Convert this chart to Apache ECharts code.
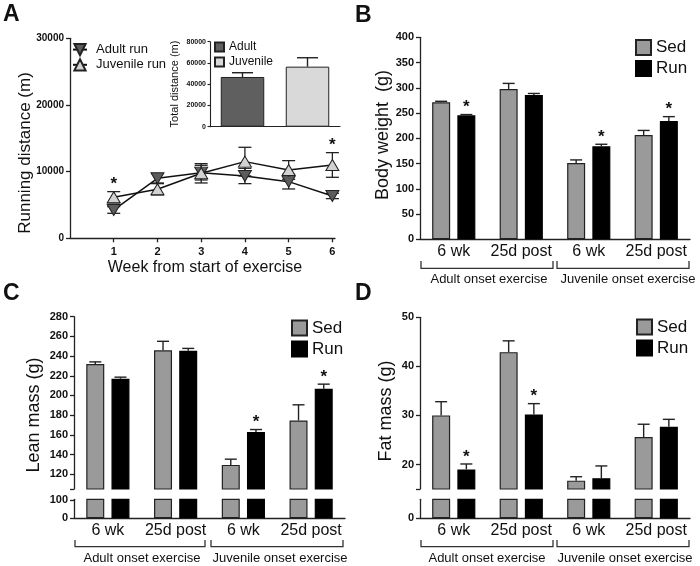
<!DOCTYPE html>
<html><head><meta charset="utf-8">
<script src="https://cdn.jsdelivr.net/npm/echarts@6/dist/echarts.min.js"></script>
<style>html,body{margin:0;padding:0;background:#fff}#c{width:700px;height:566px}</style>
</head><body><div id="c"></div>
<script>
// ---------------- data ----------------
const weeks = [1, 2, 3, 4, 5, 6];
const adultRun = [4250, 9000, 9850, 9350, 8500, 6350];
const adultRunErr = [500, 700, 1100, 1150, 1100, 400];
const juvenileRun = [6150, 7350, 9750, 11500, 10250, 11000];
const juvenileRunErr = [850, 850, 1450, 2150, 1400, 1850];
const weekSig = [1, 0, 0, 0, 0, 1];

const totalGroups = ['Adult', 'Juvenile'];
const totalDistance = [46800, 56500];
const totalDistanceErr = [4000, 8400];

const timeCats = ['6 wk', '25d post', '6 wk', '25d post'];
const groupLabels = ['Adult onset exercise', 'Juvenile onset exercise'];

const bwSed = [271.3, 297.7, 151.2, 206.6];
const bwSedErr = [2, 11, 6, 9];
const bwRun = [245.5, 285.8, 184.2, 234.3];
const bwRunErr = [1.5, 3, 4, 8.6];
const bwRunSig = [1, 0, 1, 1];

const leanSed = [232, 245.8, 129.5, 174.6];
const leanSedErr = [2.1, 9.2, 5.8, 15.9];
const leanRun = [217, 245.4, 163, 206.8];
const leanRunErr = [1.6, 2.4, 2.4, 4.7];
const leanRunSig = [0, 0, 1, 1];

const fatSed = [30.0, 42.9, 16.7, 25.6];
const fatSedErr = [2.8, 2.3, 0.8, 2.6];
const fatRun = [19.0, 30.2, 17.2, 27.7];
const fatRunErr = [1.1, 2.2, 2.5, 1.5];
const fatRunSig = [1, 1, 0, 0];

const leanTicks = [120, 140, 160, 180, 200, 220, 240, 260, 280];
const fatTicks = [20, 30, 40, 50];
const lowLabels = [0, 100];

// ---------------- helpers ----------------
const FONT = '"Liberation Sans", Arial, sans-serif';
const AX = '#222';
const SED_COLOR = '#9a9a9a';
const RUN_COLOR = '#000000';
const plain = v => String(v);
const onlyLow = v => (lowLabels.indexOf(v) >= 0 ? String(v) : '');

function starText(x, y) {
  return { type: 'text', style: { text: '*', x: x, y: y, align: 'center', verticalAlign: 'middle',
    font: 'bold 17px ' + FONT, fill: '#111' } };
}

function barErr(xi, yi, vals, errs, sigs, offset, capW) {
  return {
    type: 'custom', xAxisIndex: xi, yAxisIndex: yi, z: 5, silent: true,
    encode: { x: 0, y: 1 },
    data: vals.map((v, i) => [i, v, errs[i], sigs ? sigs[i] : 0]),
    renderItem: function (params, api) {
      const p0 = api.coord([api.value(0), api.value(1)]);
      const p1 = api.coord([api.value(0), api.value(1) + api.value(2)]);
      const x = p0[0] + offset;
      const st = { stroke: AX, lineWidth: 1.4 };
      const ch = [
        { type: 'line', shape: { x1: x, y1: p0[1], x2: x, y2: p1[1] }, style: st },
        { type: 'line', shape: { x1: x - capW / 2, y1: p1[1], x2: x + capW / 2, y2: p1[1] }, style: st }
      ];
      if (api.value(3)) ch.push(starText(x, p1[1] - 7));
      return { type: 'group', children: ch };
    }
  };
}

function lineErr(vals, errs, sigs) {
  return {
    type: 'custom', xAxisIndex: 0, yAxisIndex: 0, z: 2, silent: true,
    encode: { x: 0, y: 1 },
    data: weeks.map((w, i) => [w, vals[i], errs[i], sigs ? sigs[i] : 0]),
    renderItem: function (params, api) {
      const w = api.value(0), v = api.value(1), e = api.value(2);
      const pt = api.coord([w, v + e]), pb = api.coord([w, v - e]);
      const x = pt[0];
      const st = { stroke: AX, lineWidth: 1.3 };
      const ch = [
        { type: 'line', shape: { x1: x, y1: pt[1], x2: x, y2: pb[1] }, style: st },
        { type: 'line', shape: { x1: x - 6.5, y1: pt[1], x2: x + 6.5, y2: pt[1] }, style: st },
        { type: 'line', shape: { x1: x - 6.5, y1: pb[1], x2: x + 6.5, y2: pb[1] }, style: st }
      ];
      if (api.value(3)) ch.push(starText(x, pt[1] - 7));
      return { type: 'group', children: ch };
    }
  };
}

function bars(xi, yi, sed, run) {
  return [
    { name: 'Sed', type: 'bar', xAxisIndex: xi, yAxisIndex: yi, data: sed, barWidth: 18, barGap: '40%',
      clip: true, itemStyle: { color: SED_COLOR, borderColor: AX, borderWidth: 1.2 } },
    { name: 'Run', type: 'bar', xAxisIndex: xi, yAxisIndex: yi, data: run, barWidth: 18, barGap: '40%',
      clip: true, itemStyle: { color: RUN_COLOR, borderColor: '#000', borderWidth: 1.2 } }
  ];
}

function lbl(extra) {
  return Object.assign({ fontSize: 11, fontWeight: 'bold', color: '#111', margin: 6, fontFamily: FONT,
    formatter: plain, showMinLabel: true, showMaxLabel: true, hideOverlap: false }, extra || {});
}
function tick(extra) {
  return Object.assign({ show: true, length: 4, lineStyle: { color: AX, width: 1.3 } }, extra || {});
}

function valAxis(gi, extra) {
  return Object.assign({
    type: 'value', gridIndex: gi, splitLine: { show: false },
    axisLine: { show: true, lineStyle: { color: AX, width: 1.3 } },
    axisTick: tick(), axisLabel: lbl()
  }, extra);
}

function catAxis(gi, show) {
  return {
    type: 'category', gridIndex: gi, data: timeCats, show: show,
    axisLine: { show: true, lineStyle: { color: AX, width: 1.3 } },
    axisTick: { show: false },
    axisLabel: { interval: 0, fontSize: 16, color: '#111', margin: 4, fontFamily: FONT, hideOverlap: false }
  };
}

function sedRunLegend(left, top) {
  return {
    data: ['Sed', 'Run'], orient: 'vertical', left: left, top: top, padding: 0,
    icon: 'rect', itemWidth: 15, itemHeight: 15, itemGap: 4, selectedMode: false,
    textStyle: { fontSize: 17, color: '#111', fontFamily: FONT }
  };
}

function txt(text, x, y, size, opts) {
  return Object.assign({ type: 'text', x: x, y: y, silent: true,
    style: Object.assign({ text: text, align: 'center', verticalAlign: 'middle',
      font: size + 'px ' + FONT, fill: '#111' }, (opts && opts.style) || {}) },
    opts && opts.rot ? { rotation: Math.PI / 2 } : {});
}

function bracket(x1, x2, y1, y2) {
  return { type: 'polyline', silent: true,
    shape: { points: [[x1, y1], [x1, y2], [x2, y2], [x2, y1]] },
    style: { stroke: '#333', lineWidth: 1.3, fill: null } };
}

const option = {
  animation: false,
  textStyle: { fontFamily: FONT },
  grid: [
    { left: 70, top: 38.3, width: 265, height: 200 },     // A
    { left: 210, top: 41.7, width: 130, height: 85 },     // inset
    { left: 420, top: 37.3, width: 270, height: 202 },    // B
    { left: 74, top: 316.7, width: 271, height: 172.3 },  // C upper
    { left: 74, top: 499.3, width: 271, height: 19 },     // C lower
    { left: 420, top: 317.3, width: 270, height: 171.7 }, // D upper
    { left: 420, top: 499.3, width: 270, height: 19 }     // D lower
  ],
  xAxis: [
    { type: 'value', gridIndex: 0, min: 0, max: 6.06, splitLine: { show: false },
      axisLine: { show: true, onZero: false, lineStyle: { color: AX, width: 1.3 } },
      axisTick: tick({ customValues: weeks }),
      axisLabel: lbl({ margin: 8, customValues: weeks, showMinLabel: null, showMaxLabel: null }) },
    { type: 'category', gridIndex: 1, data: totalGroups,
      axisLine: { show: true, lineStyle: { color: AX, width: 1.2 } },
      axisTick: { show: false }, axisLabel: { show: false } },
    catAxis(2, true),
    catAxis(3, false),
    catAxis(4, true),
    catAxis(5, false),
    catAxis(6, true)
  ],
  yAxis: [
    valAxis(0, { min: 0, max: 30000, interval: 10000, axisLabel: lbl({ fontSize: 10 }) }),
    valAxis(1, { min: 0, max: 80000, interval: 20000,
      axisTick: tick({ length: 2.5, lineStyle: { color: AX, width: 1.1 } }),
      axisLine: { show: true, lineStyle: { color: AX, width: 1.1 } },
      axisLabel: lbl({ fontSize: 7, margin: 4 }) }),
    valAxis(2, { min: 0, max: 400, interval: 50 }),
    valAxis(3, { min: 105, max: 280,
      axisTick: tick({ customValues: [105].concat(leanTicks) }),
      axisLabel: lbl({ customValues: leanTicks, showMinLabel: null }) }),
    valAxis(4, { min: 0, max: 104, interval: 100, axisLabel: lbl({ formatter: onlyLow, showMaxLabel: false }) }),
    valAxis(5, { min: 15, max: 50,
      axisTick: tick({ customValues: [15].concat(fatTicks) }),
      axisLabel: lbl({ customValues: fatTicks, showMinLabel: null }) }),
    valAxis(6, { min: 0, max: 4, interval: 4, axisLabel: lbl({ formatter: v => (v === 0 ? '0' : ''), showMaxLabel: false }) })
  ],
  legend: [
    { data: ['Adult run', 'Juvenile run'], orient: 'vertical', left: 72, top: 43, padding: 0,
      itemWidth: 14, itemHeight: 14, itemGap: 2, selectedMode: false,
      textStyle: { fontSize: 13, color: '#111', padding: [0, 0, 0, 4] } },
    { data: totalGroups, orient: 'vertical', left: 214, top: 41, padding: 0, icon: 'rect',
      itemWidth: 9, itemHeight: 9, itemGap: 3, selectedMode: false,
      textStyle: { fontSize: 12, color: '#111' } },
    sedRunLegend(635, 39),
    sedRunLegend(291, 319.5),
    sedRunLegend(636, 318.5)
  ],
  series: [
    lineErr(adultRun, adultRunErr, null),
    lineErr(juvenileRun, juvenileRunErr, weekSig),
    { name: 'Adult run', type: 'line', xAxisIndex: 0, yAxisIndex: 0, z: 3,
      data: weeks.map((w, i) => [w, adultRun[i]]),
      symbol: 'triangle', symbolRotate: 180, symbolSize: [13, 11],
      lineStyle: { color: '#111', width: 1.5 },
      itemStyle: { color: '#5c5c5c', borderColor: '#222', borderWidth: 1 } },
    { name: 'Juvenile run', type: 'line', xAxisIndex: 0, yAxisIndex: 0, z: 4,
      data: weeks.map((w, i) => [w, juvenileRun[i]]),
      symbol: 'triangle', symbolSize: [13, 11],
      lineStyle: { color: '#111', width: 1.5 },
      itemStyle: { color: '#d2d2d2', borderColor: '#222', borderWidth: 1 } },

    { name: 'Adult', type: 'bar', xAxisIndex: 1, yAxisIndex: 1, barWidth: 43.5, barGap: '-100%',
      data: [totalDistance[0], '-'], itemStyle: { color: '#5f5f5f', borderColor: AX, borderWidth: 1 } },
    { name: 'Juvenile', type: 'bar', xAxisIndex: 1, yAxisIndex: 1, barWidth: 43.5, barGap: '-100%',
      data: ['-', totalDistance[1]], itemStyle: { color: '#d9d9d9', borderColor: AX, borderWidth: 1 } },
    barErr(1, 1, totalDistance, totalDistanceErr, null, 0, 21),

    ...bars(2, 2, bwSed, bwRun),
    barErr(2, 2, bwSed, bwSedErr, null, -12.6, 12),
    barErr(2, 2, bwRun, bwRunErr, bwRunSig, 12.6, 12),

    ...bars(3, 3, leanSed, leanRun),
    ...bars(4, 4, leanSed, leanRun),
    barErr(3, 3, leanSed, leanSedErr, null, -12.6, 12),
    barErr(3, 3, leanRun, leanRunErr, leanRunSig, 12.6, 12),

    ...bars(5, 5, fatSed, fatRun),
    ...bars(6, 6, fatSed, fatRun),
    barErr(5, 5, fatSed, fatSedErr, null, -12.6, 12),
    barErr(5, 5, fatRun, fatRunErr, fatRunSig, 12.6, 12)
  ],
  graphic: [
    txt('A', 3, 15, 23, { style: { align: 'left', font: 'bold 23px ' + FONT } }),
    txt('B', 355, 16, 23, { style: { align: 'left', font: 'bold 23px ' + FONT } }),
    txt('C', 3, 293.5, 23, { style: { align: 'left', font: 'bold 23px ' + FONT } }),
    txt('D', 355, 294, 23, { style: { align: 'left', font: 'bold 23px ' + FONT } }),

    txt('Running distance (m)', 25, 153, 17, { rot: true }),
    txt('Week from start of exercise', 205, 268, 16),
    txt('Total distance (m)', 175, 84, 11, { rot: true }),
    txt('Body weight  (g)', 383, 135, 18, { rot: true }),
    txt('Lean mass (g)', 34, 415, 18, { rot: true }),
    txt('Fat mass (g)', 386, 411, 18, { rot: true }),

    bracket(421, 553, 261, 268.3),
    bracket(557, 689, 261, 268.3),
    txt(groupLabels[0], 489, 279, 13),
    txt(groupLabels[1], 628, 279, 13),

    bracket(75, 205, 540, 546.7),
    bracket(211, 343, 540, 546.7),
    txt(groupLabels[0], 142, 558.5, 13),
    txt(groupLabels[1], 280, 558.5, 13),

    bracket(421, 553, 540, 546.7),
    bracket(557, 689, 540, 546.7),
    txt(groupLabels[0], 487, 558.5, 13),
    txt(groupLabels[1], 625, 558.5, 13)
  ]
};

const chart = echarts.init(document.getElementById('c'), null, { renderer: 'canvas' });
chart.setOption(option);
</script>
</body></html>
